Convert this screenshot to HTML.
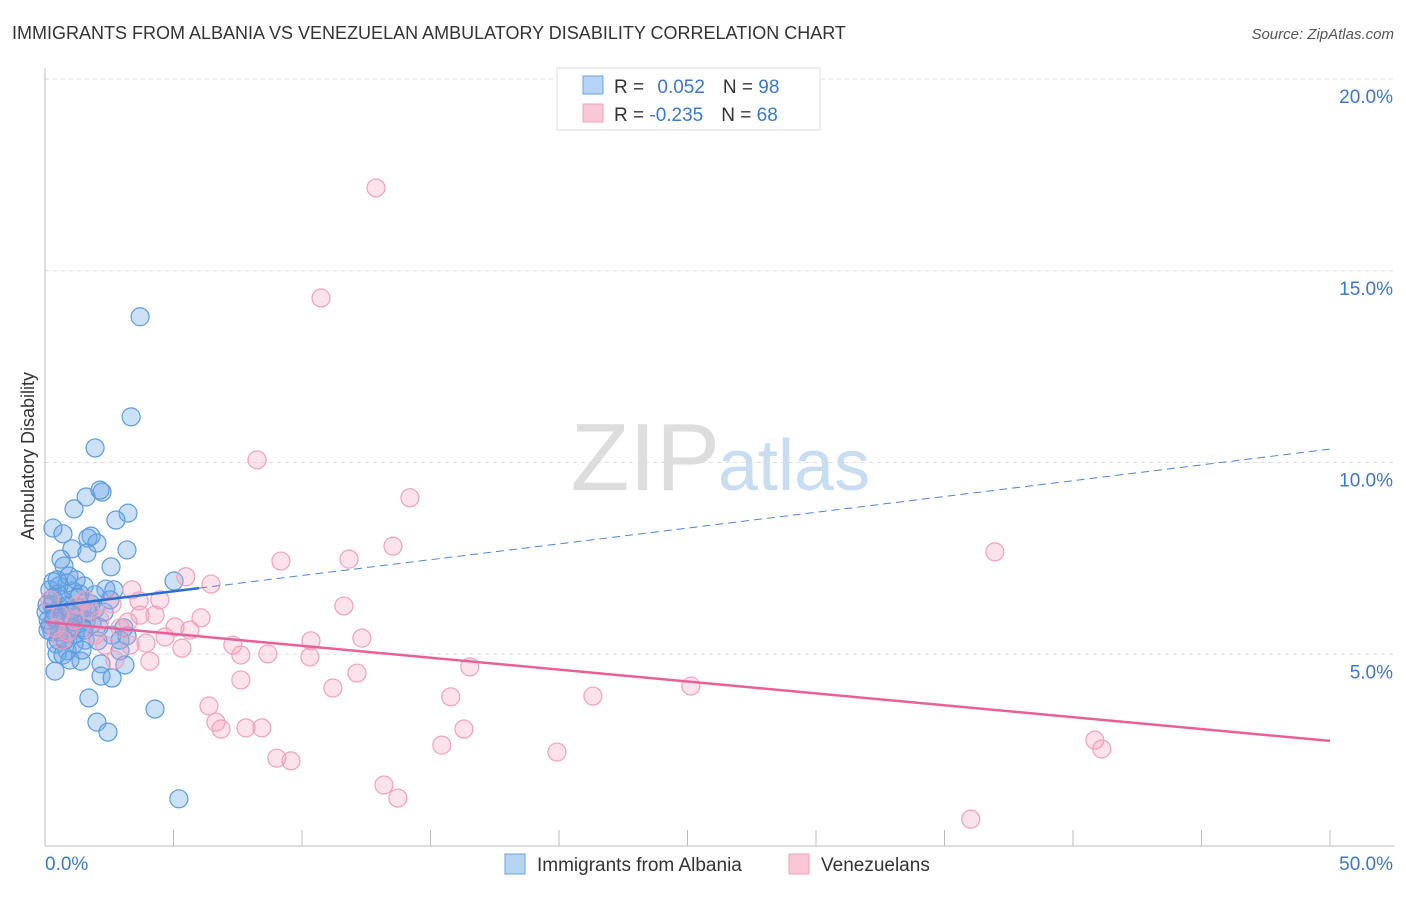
<!DOCTYPE html>
<html><head><meta charset="utf-8"><style>
body{margin:0;background:#fff;font-family:"Liberation Sans",sans-serif;}
svg text{font-family:"Liberation Sans",sans-serif;}
</style></head><body>
<svg id="c" width="1406" height="892">
<text x="12" y="39" font-size="18" fill="#333">IMMIGRANTS FROM ALBANIA VS VENEZUELAN AMBULATORY DISABILITY CORRELATION CHART</text>
<text x="1394" y="39" font-size="15" fill="#555" font-style="italic" text-anchor="end">Source: ZipAtlas.com</text>
<text x="720" y="490" font-size="96" fill="#ddd" text-anchor="end" font-family="Liberation Serif">ZIP</text>
<text x="718" y="490" font-size="72" fill="#c8dcf2">atlas</text>
<text transform="translate(34,456) rotate(-90)" font-size="18" fill="#333" text-anchor="middle">Ambulatory Disability</text>
<g id="grid"></g><g id="pts"></g><g id="trend"></g>
<g>
<rect x="557" y="68" width="263" height="62" fill="#fff" stroke="#ddd"/>
<rect x="583" y="76" width="20" height="18" fill="#b8d4f5" stroke="#6aa2e0"/>
<rect x="583" y="104" width="20" height="18" fill="#f9c8d6" stroke="#f0a0ba"/>
<text x="614" y="93" font-size="19" fill="#333">R = <tspan fill="#3a78d0" dx="8">0.052</tspan><tspan dx="18" fill="#333">N = </tspan><tspan fill="#3a78d0">98</tspan></text>
<text x="614" y="121" font-size="19" fill="#333">R = <tspan fill="#3a78d0">-0.235</tspan><tspan dx="18" fill="#333">N = </tspan><tspan fill="#3a78d0">68</tspan></text>
</g>
<g>
<rect x="505" y="854" width="20" height="20" fill="#b8d4f5" stroke="#6aa2e0"/>
<text x="537" y="871" font-size="19" fill="#333">Immigrants from Albania</text>
<rect x="789" y="854" width="20" height="20" fill="#f9c8d6" stroke="#f0a0ba"/>
<text x="821" y="871" font-size="19" fill="#333">Venezuelans</text>
</g>
</svg>
<script>
const yTicks=[5,10,15,20];
const yTickLabels=["5.0%","10.0%","15.0%","20.0%"];
const xTickVals=[0,5,10,15,20,25,30,35,40,45,50];
const albaniaX=[3.70,3.35,1.95,1.60,2.22,2.14,1.13,3.23,2.76,0.31,0.70,1.79,1.67,2.02,1.05,3.19,1.63,0.62,0.74,2.57,0.31,0.86,0.54,1.52,2.37,5.02,2.68,1.09,1.36,1.79,0.27,0.58,0.82,1.44,1.95,0.39,0.97,1.24,1.60,0.54,1.09,0.19,0.74,1.48,2.10,3.07,0.27,0.89,1.17,2.61,3.19,0.51,2.06,2.92,0.86,0.47,0.97,1.40,2.18,3.11,0.39,2.18,2.61,1.71,4.28,2.02,2.45,5.21,0.04,0.12,0.66,1.28,1.56,0.43,2.30,0.93,0.19,1.83,0.82,1.13,0.08,0.51,1.67,2.92,0.70,0.12,1.44,1.05,0.35,2.53,0.58,1.21,1.95,0.78,0.31,1.52,1.01,0.47];
const albaniaY=[13.80,11.19,10.38,9.10,9.23,9.28,8.79,8.68,8.50,8.29,8.14,8.08,8.03,7.90,7.75,7.72,7.64,7.48,7.30,7.28,6.89,6.86,6.78,6.78,6.70,6.91,6.68,6.65,6.57,6.31,6.29,6.23,6.26,6.21,6.18,6.10,6.05,5.97,5.87,5.84,5.84,5.76,5.71,5.69,5.71,5.69,5.58,5.56,5.53,5.50,5.48,5.37,5.35,5.09,5.09,5.01,4.85,4.82,4.75,4.72,4.56,4.43,4.38,3.86,3.57,3.23,2.97,1.23,6.10,5.63,6.42,6.47,5.37,5.27,6.10,7.04,6.68,5.79,6.00,5.27,6.29,6.57,6.10,5.37,4.98,5.89,5.11,5.69,5.95,6.42,5.58,6.94,6.55,5.37,6.47,5.63,6.15,6.94];
const venX=[12.88,10.74,8.25,14.20,36.96,13.54,9.18,11.83,5.48,6.46,3.38,4.47,11.63,2.61,3.66,4.28,6.07,5.06,5.64,3.23,4.67,7.31,10.35,12.33,3.93,5.33,8.67,7.62,10.31,4.08,16.53,12.14,7.62,11.20,15.79,21.32,25.13,6.38,6.65,6.85,7.82,8.44,16.30,15.44,19.92,40.85,41.12,9.02,9.57,13.19,13.73,36.02,0.58,1.17,1.75,2.33,2.92,0.89,2.14,1.56,0.39,2.72,1.95,3.31,1.28,0.66,3.70,0.19];
const venY=[17.16,14.29,10.07,9.08,7.67,7.82,7.43,7.48,7.02,6.83,6.68,6.42,6.26,6.31,6.39,6.02,5.95,5.71,5.63,5.84,5.45,5.24,5.35,5.42,5.29,5.16,5.01,4.98,4.93,4.82,4.67,4.51,4.33,4.12,3.89,3.91,4.17,3.65,3.23,3.05,3.08,3.08,3.05,2.63,2.45,2.76,2.53,2.29,2.22,1.59,1.25,0.70,6.02,5.89,6.15,5.24,5.69,5.58,5.89,6.42,5.69,4.85,5.50,5.24,6.29,5.37,6.02,6.42];
const albaniaTrend=[6.23,10.35];
const venTrend=[5.84,2.74];
const NS="http://www.w3.org/2000/svg";
const X=v=>45+v/50*1285, Y=v=>846-v*38.35;
function mk(tag,attrs,parent){const e=document.createElementNS(NS,tag);for(const k in attrs)e.setAttribute(k,attrs[k]);parent.appendChild(e);return e;}
const g=document.getElementById('grid');
yTicks.forEach((t,i)=>{
 const l=mk('line',{x1:45,x2:1394,y1:Y(t),y2:Y(t),stroke:'#ddd','stroke-dasharray':'4,4'},g);
 
 
 const tx=mk('text',{x:1393,y:Y(t)+24,'font-size':19,fill:'#3a78d0','text-anchor':'end'},g);
 tx.textContent=yTickLabels[i];
 
 
});
const ax=mk('line',{x1:45,x2:45,y1:68,y2:846,stroke:'#bbb'},g);


const bx=mk('line',{x1:45,x2:1394,y1:846,y2:846,stroke:'#bbb'},g);


xTickVals.forEach(t=>{
 const l=mk('line',{x1:X(t),x2:X(t),y1:830,y2:846,stroke:'#bbb'},g);
 
 
});
const xl0=mk('text',{x:45,y:870,'font-size':19,fill:'#3a78d0'},g);xl0.textContent='0.0%';


const xl1=mk('text',{x:1393,y:870,'font-size':19,fill:'#3a78d0','text-anchor':'end'},g);xl1.textContent='50.0%';


const p=document.getElementById('pts');
albaniaX.forEach((v,i)=>{
 const c=mk('circle',{cx:X(v),cy:Y(albaniaY[i]),r:9,fill:'rgba(110,165,230,0.35)',stroke:'#5b9be0','stroke-width':1.2},p);
 
 
});
venX.forEach((v,i)=>{
 const c=mk('circle',{cx:X(v),cy:Y(venY[i]),r:9,fill:'rgba(245,160,190,0.3)',stroke:'#f0a0ba','stroke-width':1.2},p);
 
 
});
const tr=document.getElementById('trend');
const by=x=>albaniaTrend[0]+(albaniaTrend[1]-albaniaTrend[0])*x/50;
const t1=mk('line',{x1:X(0),y1:Y(by(0)),x2:X(6),y2:Y(by(6)),stroke:'#2a6fd0','stroke-width':2.5},tr);


const t2=mk('line',{x1:X(6),y1:Y(by(6)),x2:X(50),y2:Y(by(50)),stroke:'#4a86d8','stroke-width':1,'stroke-dasharray':'8,5'},tr);


const t3=mk('line',{x1:X(0),y1:Y(venTrend[0]),x2:X(50),y2:Y(venTrend[1]),stroke:'#e8609a','stroke-width':2.5},tr);


</script>
</body></html>
